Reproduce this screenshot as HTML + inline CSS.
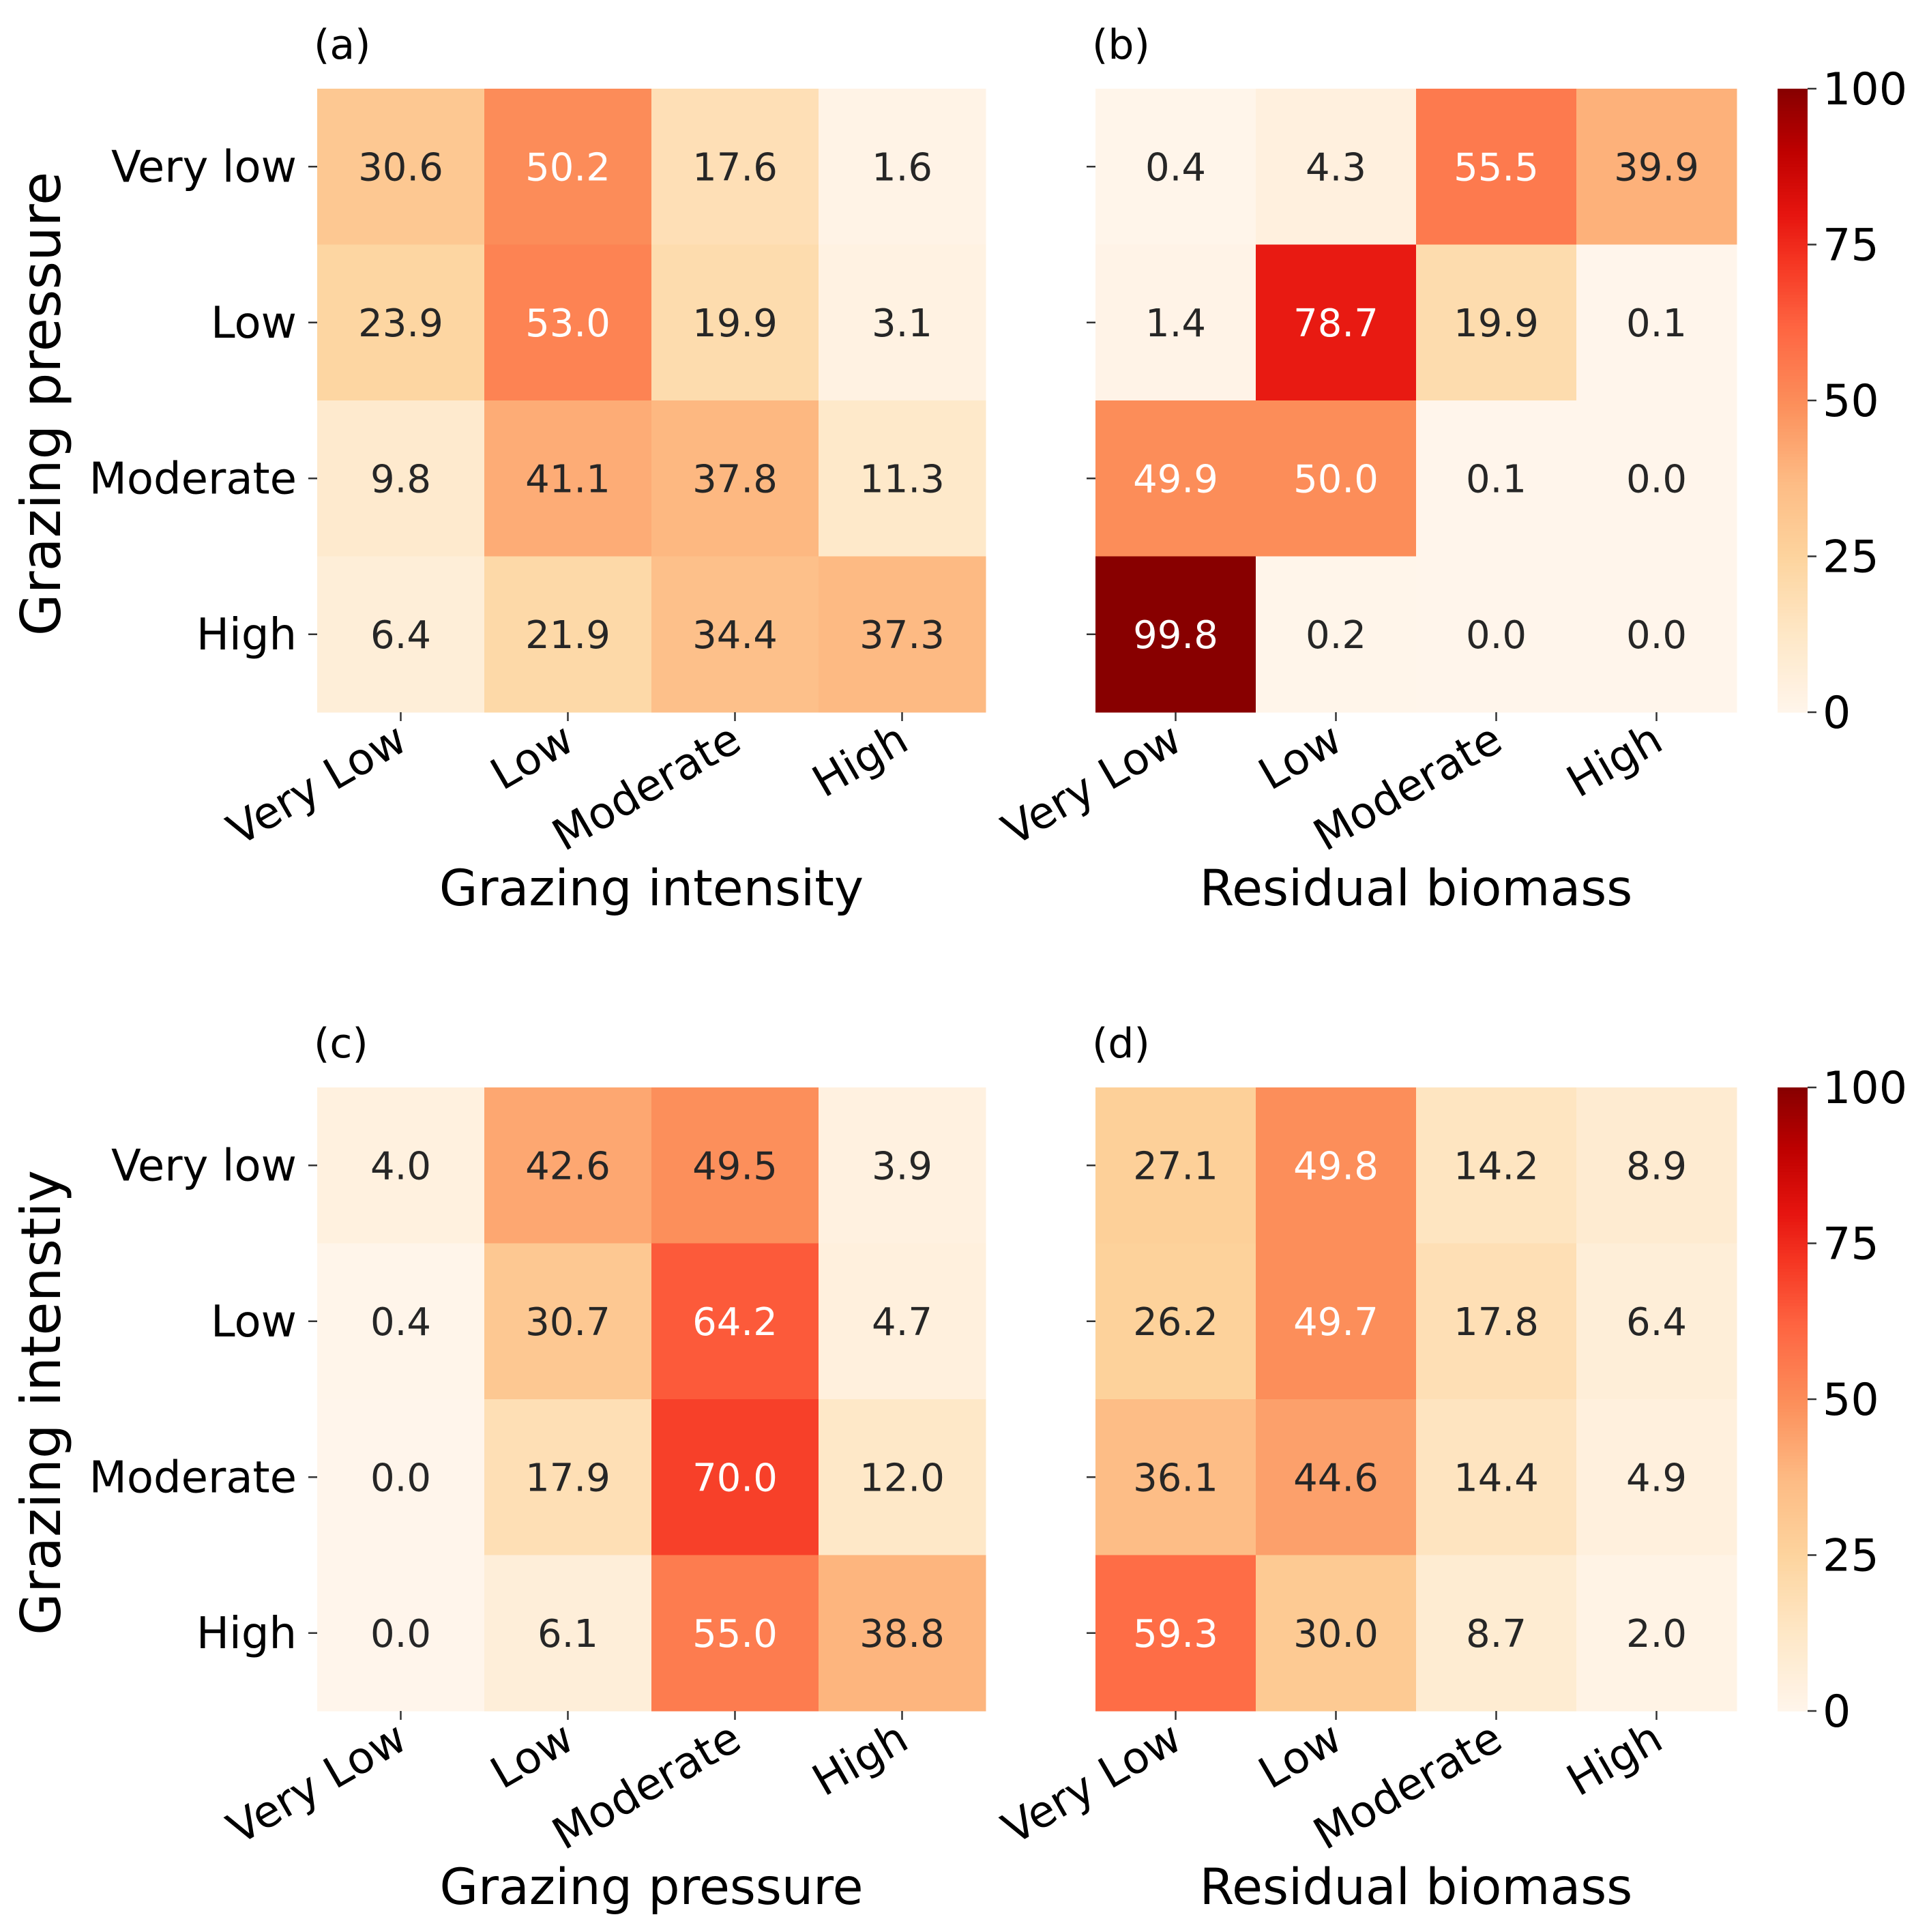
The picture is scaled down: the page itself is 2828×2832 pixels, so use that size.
<!DOCTYPE html>
<html><head><meta charset="utf-8"><style>
html,body{margin:0;padding:0;background:#fff;}
svg{display:block;font-family:"DejaVu Sans","Liberation Sans",sans-serif;}
</style></head><body>
<svg id="fig" width="2828" height="2832" viewBox="0 0 2828 2832" xmlns="http://www.w3.org/2000/svg"></svg>
<script>
const rowLabels = ["Very low","Low","Moderate","High"];
const colLabels = ["Very Low","Low","Moderate","High"];
const valuesA = [[30.6,50.2,17.6,1.6],[23.9,53.0,19.9,3.1],[9.8,41.1,37.8,11.3],[6.4,21.9,34.4,37.3]];
const valuesB = [[0.4,4.3,55.5,39.9],[1.4,78.7,19.9,0.1],[49.9,50.0,0.1,0.0],[99.8,0.2,0.0,0.0]];
const valuesC = [[4.0,42.6,49.5,3.9],[0.4,30.7,64.2,4.7],[0.0,17.9,70.0,12.0],[0.0,6.1,55.0,38.8]];
const valuesD = [[27.1,49.8,14.2,8.9],[26.2,49.7,17.8,6.4],[36.1,44.6,14.4,4.9],[59.3,30.0,8.7,2.0]];
const cbTicks = [0,25,50,75,100];

const NS="http://www.w3.org/2000/svg";
const svg=document.getElementById('fig');
function mk(tag,attrs,parent){const e=document.createElementNS(NS,tag);for(const k in attrs)e.setAttribute(k,attrs[k]);(parent||svg).appendChild(e);return e;}
const stops=[[0,[255,245,235]],[12,[254,232,200]],[25,[253,212,158]],[37,[253,187,132]],[50,[252,141,89]],[62,[254,100,65]],[72,[245,55,35]],[80,[230,20,15]],[90,[190,0,0]],[100,[135,0,0]]];
function color(v){for(let i=1;i<stops.length;i++){if(v<=stops[i][0]){const a=stops[i-1],b=stops[i],t=(v-a[0])/(b[0]-a[0]);const c=a[1].map((x,j)=>Math.round(x+(b[1][j]-x)*t));return `rgb(${c})`;}}return 'rgb(135,0,0)';}

function panel(name,vals,x0,x1,y0,y1,showY,label,xTitle,yTitle){
  const g=mk('g',{});
  
  
  const cw=(x1-x0)/4,ch=(y1-y0)/4;
  const xs=j=>x0+j*cw, ys=i=>y0+i*ch;
  vals.forEach((row,i)=>row.forEach((v,j)=>{
    const r=mk('rect',{x:xs(j),y:ys(i),width:cw+0.5,height:ch+0.5,fill:color(v)},g);
    
    
    const t=mk('text',{x:xs(j)+cw/2,y:ys(i)+ch/2+20,'text-anchor':'middle','font-size':56,fill:v>=49.6?'#ffffff':'#262626'},g);
    t.textContent=v.toFixed(1);
    
    
  }));
  rowLabels.forEach((l,i)=>{
    const yc=ys(i)+ch/2;
    mk('line',{x1:x0-13,x2:x0,y1:yc,y2:yc,stroke:'#333','stroke-width':2.5},g);
    if(showY){const t=mk('text',{x:x0-30,y:yc+22,'text-anchor':'end','font-size':64,fill:'#000'},g);t.textContent=l;
      
      }
  });
  colLabels.forEach((l,j)=>{
    const xc=xs(j)+cw/2;
    mk('line',{x1:xc,x2:xc,y1:y1,y2:y1+13,stroke:'#333','stroke-width':2.5},g);
    const t=mk('text',{x:xc,y:y1+56,'text-anchor':'end','font-size':64,fill:'#000',transform:`rotate(-30 ${xc} ${y1+30})`},g);t.textContent=l;
    
    
  });
  const pl=mk('text',{x:x0-5,y:y0-44,'font-size':60,fill:'#000'},g);pl.textContent=label;
  
  
  const xt=mk('text',{x:(x0+x1)/2,y:y1+283,'text-anchor':'middle','font-size':73,fill:'#000'},g);xt.textContent=xTitle;
  
  
  if(yTitle){const cy=(y0+y1)/2+5;const yt=mk('text',{x:88,y:cy,'text-anchor':'middle','font-size':80,fill:'#000',transform:`rotate(-90 88 ${cy})`},g);yt.textContent=yTitle;
    
    }
}
function colorbar(name,x0,x1,y0,y1){
  const g=mk('g',{});
  
  
  const n=200,h=(y1-y0)/n;
  for(let k=0;k<n;k++){mk('rect',{x:x0,y:y1-(k+1)*h,width:x1-x0,height:h+0.6,fill:color((k+0.5)/n*100)},g);}
  cbTicks.forEach(v=>{const y=y1-(v/100)*(y1-y0);
    mk('line',{x1:x1,x2:x1+13,y1:y,y2:y,stroke:'#333','stroke-width':2.5},g);
    const t=mk('text',{x:x1+22,y:y+23,'font-size':65,fill:'#000'},g);t.textContent=v;
    
    });
}
panel('panel-a',valuesA,465,1445,130,1044,true,'(a)','Grazing intensity','Grazing pressure');
panel('panel-b',valuesB,1606,2546,130,1044,false,'(b)','Residual biomass',null);
panel('panel-c',valuesC,465,1445,1594,2508,true,'(c)','Grazing pressure','Grazing intenstiy');
panel('panel-d',valuesD,1606,2546,1594,2508,false,'(d)','Residual biomass',null);
colorbar('colorbar-top',2606,2650,130,1044);
colorbar('colorbar-bottom',2606,2650,1594,2508);
</script>
</body></html>
